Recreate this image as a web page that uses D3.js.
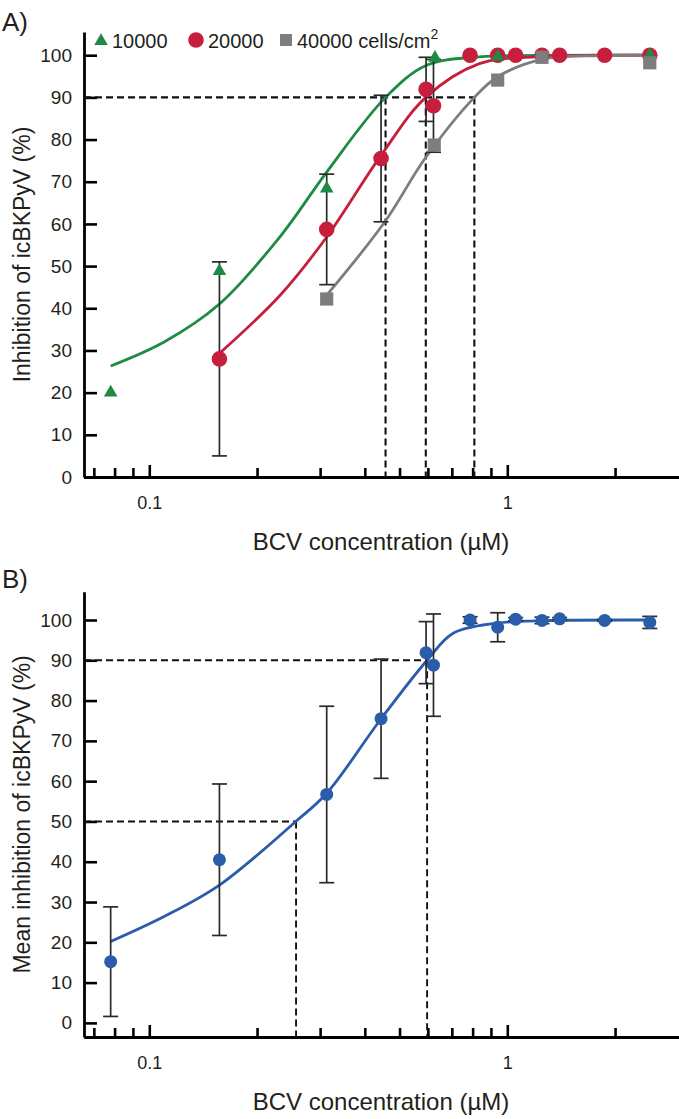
<!DOCTYPE html>
<html><head><meta charset="utf-8">
<script src="https://cdn.jsdelivr.net/npm/d3@7"></script>
<style>
body{margin:0;background:#fff;}
svg{display:block;font-family:"Liberation Sans",Arial,Helvetica,sans-serif;}
</style></head>
<body><svg id="c" width="679" height="1119"></svg>
<script>
// ---------- DATA ----------
// Panel A: seeding density 10000 (green), 20000 (red), 40000 (grey) cells/cm2
const greenX = [0.078, 0.157, 0.313, 0.628, 0.94, 2.5];
const greenY = [20.0, 48.8, 68.4, 99.4, 99.6, 100.0];
const redX = [0.157, 0.313, 0.444, 0.593, 0.622, 0.787, 0.94, 1.055, 1.25, 1.40, 1.87, 2.5];
const redY = [28.0, 58.7, 75.5, 91.9, 88.0, 100.0, 100.0, 100.0, 100.0, 100.0, 100.0, 100.0];
const redSD = [23.0, 13.1, 15.0, 7.6, 11.0, 0, 0, 0, 0, 0, 0, 0];
const greyX = [0.313, 0.625, 0.94, 1.25, 2.5];
const greyY = [42.2, 78.7, 94.1, 99.5, 98.2];
// fitted curves
const greenFitX = [0.078, 0.11, 0.157, 0.232, 0.313, 0.457, 0.595, 0.836, 1.2, 2.5];
const greenFitY = [26.3, 32.0, 41.0, 57.0, 72.3, 90.0, 97.6, 99.6, 99.95, 100];
const redFitX = [0.157, 0.232, 0.313, 0.441, 0.592, 0.836, 1.2, 2.5];
const redFitY = [29.3, 43.1, 56.9, 75.9, 90.0, 98.0, 99.6, 100];
const greyFitX = [0.313, 0.455, 0.589, 0.809, 0.94, 1.25, 1.8, 2.5];
const greyFitY = [43.1, 60.5, 75.5, 90.0, 94.9, 99.0, 99.9, 100];
const ic90A = [0.457, 0.592, 0.809];

// Panel B: mean of all densities
const meanX = [0.078, 0.157, 0.313, 0.444, 0.593, 0.622, 0.787, 0.94, 1.055, 1.25, 1.40, 1.87, 2.5];
const meanY = [15.2, 40.5, 56.7, 75.5, 91.9, 88.8, 100.0, 98.2, 100.2, 99.9, 100.3, 99.9, 99.4];
const meanSD = [13.6, 18.8, 21.9, 14.8, 7.7, 12.7, 0.8, 3.6, 0.4, 0.8, 0.3, 0.2, 1.5];
const blueFitX = [0.078, 0.11, 0.157, 0.2566, 0.313, 0.44, 0.597, 0.706, 0.93, 1.2, 2.5];
const blueFitY = [20.2, 26.4, 34.2, 50.0, 57.0, 75.0, 90.0, 96.7, 99.2, 99.8, 100];
const ic50B = 0.257, ic90B = 0.597;

const yTicks = [0,10,20,30,40,50,60,70,80,90,100];
const xMajor = [0.1, 1];
const xMinor = [0.07,0.08,0.09,0.2,0.3,0.4,0.5,0.6,0.7,0.8,0.9,2];
const xTickLabels = ["0.1","1"];

const cGreen = "#1d8a45", cRed = "#c81e3e", cGrey = "#7d7d7d", cBlue = "#2a5ca9";
const txt = "#231f20";

// ---------- DRAW ----------
const svg = d3.select("#c");
const x = d3.scaleLog().domain([0.06571, 3.017]).range([84, 679]);
const yA = d3.scaleLinear().domain([0, 105.5]).range([477, 32]);
const yB = d3.scaleLinear().domain([-3.5, 107]).range([1037, 591.8]);

function axes(y, x0y, title){
  const g = svg.append("g");
  const ya = g.append("g").attr("transform","translate(84,0)")
    .call(d3.axisLeft(y).tickValues(yTicks).tickSize(-13).tickSizeOuter(0).tickPadding(12));
  const xm = g.append("g").attr("transform",`translate(0,${x0y})`)
    .call(d3.axisBottom(x).tickValues(xMinor).tickSize(-9).tickSizeOuter(0).tickFormat(""));
  const xa = g.append("g").attr("transform",`translate(0,${x0y})`)
    .call(d3.axisBottom(x).tickValues(xMajor).tickSize(-12).tickSizeOuter(0).tickPadding(19)
      .tickFormat((d,i)=>xTickLabels[i]));
  [ya,xm,xa].forEach(a=>{
    a.select(".domain").attr("stroke","#000").attr("stroke-width",2.8);
    a.selectAll(".tick line").attr("stroke","#000").attr("stroke-width",2.6);
    a.selectAll("text").attr("fill",txt).style("font-family","Liberation Sans, Arial, sans-serif");
  });
  ya.selectAll("text").style("font-size","19px");
  xa.selectAll("text").style("font-size","18px");
  g.append("text").attr("x",381).attr("y",x0y+73).attr("text-anchor","middle")
    .style("font-size","24px").attr("fill",txt).text("BCV concentration (µM)");
  const ym = (y.range()[0]+y.range()[1])/2;
  g.append("text").attr("transform",`translate(30,${ym}) rotate(-90)`).attr("text-anchor","middle")
    .style("font-size","23px").attr("fill",txt).text(title);
}

function dashed(pts, w){
  svg.append("path").attr("d",d3.line()(pts)).attr("fill","none")
    .attr("stroke","#111").attr("stroke-width",w).attr("stroke-dasharray","7,4");
}
function fitLine(xs, ys, y, col){
  const pts = xs.map((v,i)=>[x(v), y(ys[i])]);
  svg.append("path").attr("d", d3.line().curve(d3.curveCatmullRom.alpha(0.5))(pts))
    .attr("fill","none").attr("stroke",col).attr("stroke-width",2.8);
}
function errBars(xs, ys, sds, y){
  const g = svg.append("g").attr("stroke","#2a2a2a").attr("stroke-width",1.7);
  xs.forEach((v,i)=>{
    if(!sds[i]) return;
    const cx = x(v), t = y(ys[i]+sds[i]), b = y(ys[i]-sds[i]);
    g.append("line").attr("x1",cx).attr("x2",cx).attr("y1",t).attr("y2",b);
    g.append("line").attr("x1",cx-7.5).attr("x2",cx+7.5).attr("y1",t).attr("y2",t);
    g.append("line").attr("x1",cx-7.5).attr("x2",cx+7.5).attr("y1",b).attr("y2",b);
  });
}

// Panel A
axes(yA, 477, "Inhibition of icBKPyV (%)");
dashed([[84, yA(90)], [x(ic90A[2]), yA(90)]], 2.1);
ic90A.forEach(v=>dashed([[x(v), yA(90)], [x(v), yA(0)]], 2.1));
fitLine(greenFitX, greenFitY, yA, cGreen);
fitLine(redFitX, redFitY, yA, cRed);
fitLine(greyFitX, greyFitY, yA, cGrey);
errBars(redX, redY, redSD, yA);
svg.append("g").selectAll("circle").data(redX).join("circle")
  .attr("cx",d=>x(d)).attr("cy",(d,i)=>yA(redY[i])).attr("r",7.8).attr("fill",cRed);
svg.append("g").selectAll("path").data(greenX).join("path")
  .attr("transform",(d,i)=>`translate(${x(d)},${yA(greenY[i])})`)
  .attr("d",d3.symbol(d3.symbolTriangle,80)).attr("fill",cGreen);
svg.append("g").selectAll("rect").data(greyX).join("rect")
  .attr("x",d=>x(d)-6.6).attr("y",(d,i)=>yA(greyY[i])-6.6).attr("width",13.2).attr("height",13.2).attr("fill",cGrey);

// legend
const lg = svg.append("g").style("font-size","20px").attr("fill",txt);
lg.append("path").attr("transform","translate(101,41)").attr("d",d3.symbol(d3.symbolTriangle,80)).attr("fill",cGreen);
lg.append("text").attr("x",112).attr("y",48).text("10000");
lg.append("circle").attr("cx",196).attr("cy",40).attr("r",7.8).attr("fill",cRed);
lg.append("text").attr("x",208).attr("y",48).text("20000");
lg.append("rect").attr("x",280).attr("y",34).attr("width",12).attr("height",12).attr("fill",cGrey);
const lt = lg.append("text").attr("x",297).attr("y",48).text("40000 cells/cm");
lt.append("tspan").attr("dy",-9).style("font-size","14px").text("2");

// Panel B
axes(yB, 1037, "Mean inhibition of icBKPyV (%)");
dashed([[84, yB(90)], [x(ic90B), yB(90)]], 1.9);
dashed([[x(ic90B), yB(90)], [x(ic90B), 1037]], 1.9);
dashed([[84, yB(50)], [x(ic50B), yB(50)]], 1.9);
dashed([[x(ic50B), yB(50)], [x(ic50B), 1037]], 1.9);
fitLine(blueFitX, blueFitY, yB, cBlue);
errBars(meanX, meanY, meanSD, yB);
svg.append("g").selectAll("circle").data(meanX).join("circle")
  .attr("cx",d=>x(d)).attr("cy",(d,i)=>yB(meanY[i])).attr("r",6.5).attr("fill",cBlue);

// panel letters
svg.append("text").attr("x",2).attr("y",31).style("font-size","26px").attr("fill",txt).text("A)");
svg.append("text").attr("x",2).attr("y",588).style("font-size","26px").attr("fill",txt).text("B)");
</script></body></html>
